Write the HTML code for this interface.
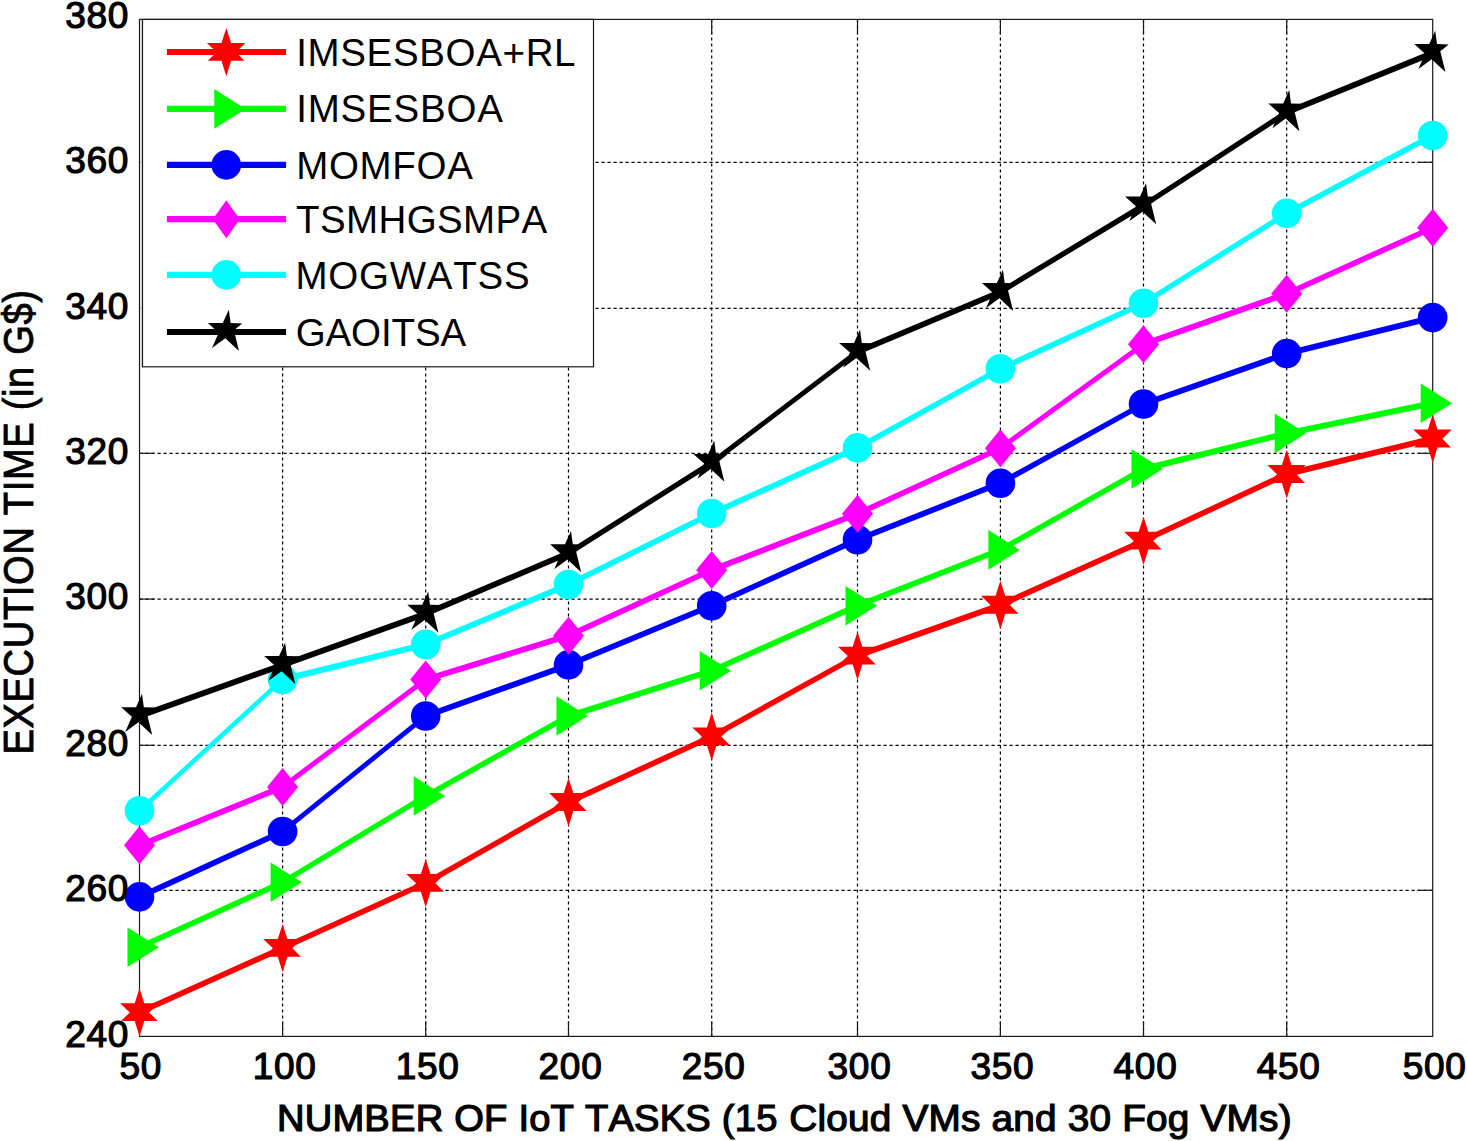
<!DOCTYPE html>
<html lang="en"><head><meta charset="utf-8"><title>Execution time chart</title>
<style>
html,body{margin:0;padding:0;background:#fff;}
body{width:1467px;height:1141px;overflow:hidden;}
svg{display:block;}
text{font-family:"Liberation Sans",Arial,Helvetica,sans-serif;fill:#000;font-kerning:none;}
.tick{font-size:37px;stroke:#000;stroke-width:1.2px;letter-spacing:0.7px;}
.lab{font-size:38.5px;stroke:#000;stroke-width:1.2px;}
.leg{font-size:38.5px;}
</style></head><body>
<svg width="1467" height="1141" viewBox="0 0 1467 1141">
<rect x="0" y="0" width="1467" height="1141" fill="#ffffff"/>
<g stroke="#000" stroke-width="1.2" stroke-dasharray="3.2 2.8" fill="none">
<line x1="282.6" y1="19.4" x2="282.6" y2="1036.4"/>
<line x1="425.7" y1="19.4" x2="425.7" y2="1036.4"/>
<line x1="568.5" y1="19.4" x2="568.5" y2="1036.4"/>
<line x1="711.7" y1="19.4" x2="711.7" y2="1036.4"/>
<line x1="857.5" y1="19.4" x2="857.5" y2="1036.4"/>
<line x1="1000.4" y1="19.4" x2="1000.4" y2="1036.4"/>
<line x1="1143.5" y1="19.4" x2="1143.5" y2="1036.4"/>
<line x1="1286.7" y1="19.4" x2="1286.7" y2="1036.4"/>
<line x1="139.5" y1="890.3" x2="1432.7" y2="890.3"/>
<line x1="139.5" y1="745.3" x2="1432.7" y2="745.3"/>
<line x1="139.5" y1="599.1" x2="1432.7" y2="599.1"/>
<line x1="139.5" y1="453.3" x2="1432.7" y2="453.3"/>
<line x1="139.5" y1="308.3" x2="1432.7" y2="308.3"/>
<line x1="139.5" y1="162.3" x2="1432.7" y2="162.3"/>
</g>
<g stroke="#1a1a1a" stroke-width="1.2" fill="none">
<rect x="139.5" y="19.4" width="1293.2" height="1017"/>
<line x1="282.6" y1="1036.4" x2="282.6" y2="1021.4"/>
<line x1="282.6" y1="19.4" x2="282.6" y2="34.4"/>
<line x1="425.7" y1="1036.4" x2="425.7" y2="1021.4"/>
<line x1="425.7" y1="19.4" x2="425.7" y2="34.4"/>
<line x1="568.5" y1="1036.4" x2="568.5" y2="1021.4"/>
<line x1="568.5" y1="19.4" x2="568.5" y2="34.4"/>
<line x1="711.7" y1="1036.4" x2="711.7" y2="1021.4"/>
<line x1="711.7" y1="19.4" x2="711.7" y2="34.4"/>
<line x1="857.5" y1="1036.4" x2="857.5" y2="1021.4"/>
<line x1="857.5" y1="19.4" x2="857.5" y2="34.4"/>
<line x1="1000.4" y1="1036.4" x2="1000.4" y2="1021.4"/>
<line x1="1000.4" y1="19.4" x2="1000.4" y2="34.4"/>
<line x1="1143.5" y1="1036.4" x2="1143.5" y2="1021.4"/>
<line x1="1143.5" y1="19.4" x2="1143.5" y2="34.4"/>
<line x1="1286.7" y1="1036.4" x2="1286.7" y2="1021.4"/>
<line x1="1286.7" y1="19.4" x2="1286.7" y2="34.4"/>
<line x1="139.5" y1="890.3" x2="154.5" y2="890.3"/>
<line x1="1432.7" y1="890.3" x2="1417.7" y2="890.3"/>
<line x1="139.5" y1="745.3" x2="154.5" y2="745.3"/>
<line x1="1432.7" y1="745.3" x2="1417.7" y2="745.3"/>
<line x1="139.5" y1="599.1" x2="154.5" y2="599.1"/>
<line x1="1432.7" y1="599.1" x2="1417.7" y2="599.1"/>
<line x1="139.5" y1="453.3" x2="154.5" y2="453.3"/>
<line x1="1432.7" y1="453.3" x2="1417.7" y2="453.3"/>
<line x1="139.5" y1="308.3" x2="154.5" y2="308.3"/>
<line x1="1432.7" y1="308.3" x2="1417.7" y2="308.3"/>
<line x1="139.5" y1="162.3" x2="154.5" y2="162.3"/>
<line x1="1432.7" y1="162.3" x2="1417.7" y2="162.3"/>
</g>
<g>
<line x1="139.5" y1="1012.29" x2="282.6" y2="948.01" stroke="#ff0000" stroke-width="5.66" stroke-linecap="butt"/>
<line x1="282.6" y1="948.01" x2="425.7" y2="883.05" stroke="#ff0000" stroke-width="5.65" stroke-linecap="butt"/>
<line x1="425.7" y1="883.05" x2="568.5" y2="802.21" stroke="#ff0000" stroke-width="5.4" stroke-linecap="butt"/>
<line x1="568.5" y1="802.21" x2="711.7" y2="736.53" stroke="#ff0000" stroke-width="5.64" stroke-linecap="butt"/>
<line x1="711.7" y1="736.53" x2="857.5" y2="655.75" stroke="#ff0000" stroke-width="5.42" stroke-linecap="butt"/>
<line x1="857.5" y1="655.75" x2="1000.4" y2="604.95" stroke="#ff0000" stroke-width="5.84" stroke-linecap="butt"/>
<line x1="1000.4" y1="604.95" x2="1143.5" y2="540.78" stroke="#ff0000" stroke-width="5.66" stroke-linecap="butt"/>
<line x1="1143.5" y1="540.78" x2="1286.7" y2="474.08" stroke="#ff0000" stroke-width="5.62" stroke-linecap="butt"/>
<line x1="1286.7" y1="474.08" x2="1432.7" y2="438.58" stroke="#ff0000" stroke-width="6.02" stroke-linecap="butt"/>
<polygon points="139.5,988.19 144.3,1003.19 158.5,1003.19 149.2,1012.49 157.7,1021.09 144.3,1021.09 139.5,1036.59 134.7,1021.09 120.9,1021.09 129.8,1012.49 120.1,1003.19 134.7,1003.19" fill="#ff0000"/>
<polygon points="282.6,923.91 287.4,938.91 301.6,938.91 292.3,948.21 300.8,956.81 287.4,956.81 282.6,972.31 277.8,956.81 264,956.81 272.9,948.21 263.2,938.91 277.8,938.91" fill="#ff0000"/>
<polygon points="425.7,858.95 430.5,873.95 444.7,873.95 435.4,883.25 443.9,891.85 430.5,891.85 425.7,907.35 420.9,891.85 407.1,891.85 416,883.25 406.3,873.95 420.9,873.95" fill="#ff0000"/>
<polygon points="568.5,778.11 573.3,793.11 587.5,793.11 578.2,802.41 586.7,811.01 573.3,811.01 568.5,826.51 563.7,811.01 549.9,811.01 558.8,802.41 549.1,793.11 563.7,793.11" fill="#ff0000"/>
<polygon points="711.7,712.43 716.5,727.43 730.7,727.43 721.4,736.73 729.9,745.33 716.5,745.33 711.7,760.83 706.9,745.33 693.1,745.33 702,736.73 692.3,727.43 706.9,727.43" fill="#ff0000"/>
<polygon points="857.5,631.65 862.3,646.65 876.5,646.65 867.2,655.95 875.7,664.55 862.3,664.55 857.5,680.05 852.7,664.55 838.9,664.55 847.8,655.95 838.1,646.65 852.7,646.65" fill="#ff0000"/>
<polygon points="1000.4,580.85 1005.2,595.85 1019.4,595.85 1010.1,605.15 1018.6,613.75 1005.2,613.75 1000.4,629.25 995.6,613.75 981.8,613.75 990.7,605.15 981,595.85 995.6,595.85" fill="#ff0000"/>
<polygon points="1143.5,516.68 1148.3,531.68 1162.5,531.68 1153.2,540.98 1161.7,549.58 1148.3,549.58 1143.5,565.08 1138.7,549.58 1124.9,549.58 1133.8,540.98 1124.1,531.68 1138.7,531.68" fill="#ff0000"/>
<polygon points="1286.7,449.98 1291.5,464.98 1305.7,464.98 1296.4,474.28 1304.9,482.88 1291.5,482.88 1286.7,498.38 1281.9,482.88 1268.1,482.88 1277,474.28 1267.3,464.98 1281.9,464.98" fill="#ff0000"/>
<polygon points="1432.7,414.48 1437.5,429.48 1451.7,429.48 1442.4,438.78 1450.9,447.38 1437.5,447.38 1432.7,462.88 1427.9,447.38 1414.1,447.38 1423,438.78 1413.3,429.48 1427.9,429.48" fill="#ff0000"/>
</g>
<g>
<line x1="139.5" y1="947.28" x2="282.6" y2="882.32" stroke="#00ff00" stroke-width="5.65" stroke-linecap="butt"/>
<line x1="282.6" y1="882.32" x2="425.7" y2="796.05" stroke="#00ff00" stroke-width="5.31" stroke-linecap="butt"/>
<line x1="425.7" y1="796.05" x2="568.5" y2="716.06" stroke="#00ff00" stroke-width="5.41" stroke-linecap="butt"/>
<line x1="568.5" y1="716.06" x2="711.7" y2="670.74" stroke="#00ff00" stroke-width="5.91" stroke-linecap="butt"/>
<line x1="711.7" y1="670.74" x2="857.5" y2="605.68" stroke="#00ff00" stroke-width="5.66" stroke-linecap="butt"/>
<line x1="857.5" y1="605.68" x2="1000.4" y2="549.89" stroke="#00ff00" stroke-width="5.78" stroke-linecap="butt"/>
<line x1="1000.4" y1="549.89" x2="1143.5" y2="468.97" stroke="#00ff00" stroke-width="5.4" stroke-linecap="butt"/>
<line x1="1143.5" y1="468.97" x2="1286.7" y2="433.36" stroke="#00ff00" stroke-width="6.02" stroke-linecap="butt"/>
<line x1="1286.7" y1="433.36" x2="1432.7" y2="403.28" stroke="#00ff00" stroke-width="6.07" stroke-linecap="butt"/>
<polygon points="127.5,927.48 158.9,947.28 127.5,967.08" fill="#00ff00"/>
<polygon points="270.6,862.52 302,882.32 270.6,902.12" fill="#00ff00"/>
<polygon points="413.7,776.25 445.1,796.05 413.7,815.85" fill="#00ff00"/>
<polygon points="556.5,696.26 587.9,716.06 556.5,735.86" fill="#00ff00"/>
<polygon points="699.7,650.94 731.1,670.74 699.7,690.54" fill="#00ff00"/>
<polygon points="845.5,585.88 876.9,605.68 845.5,625.48" fill="#00ff00"/>
<polygon points="988.4,530.09 1019.8,549.89 988.4,569.69" fill="#00ff00"/>
<polygon points="1131.5,449.17 1162.9,468.97 1131.5,488.77" fill="#00ff00"/>
<polygon points="1274.7,413.56 1306.1,433.36 1274.7,453.16" fill="#00ff00"/>
<polygon points="1420.7,383.48 1452.1,403.28 1420.7,423.08" fill="#00ff00"/>
</g>
<g>
<line x1="139.5" y1="896.87" x2="282.6" y2="831.57" stroke="#0000ff" stroke-width="5.64" stroke-linecap="butt"/>
<line x1="282.6" y1="831.57" x2="425.7" y2="716.06" stroke="#0000ff" stroke-width="4.82" stroke-linecap="butt"/>
<line x1="425.7" y1="716.06" x2="568.5" y2="664.89" stroke="#0000ff" stroke-width="5.84" stroke-linecap="butt"/>
<line x1="568.5" y1="664.89" x2="711.7" y2="605.68" stroke="#0000ff" stroke-width="5.73" stroke-linecap="butt"/>
<line x1="711.7" y1="605.68" x2="857.5" y2="539.69" stroke="#0000ff" stroke-width="5.65" stroke-linecap="butt"/>
<line x1="857.5" y1="539.69" x2="1000.4" y2="483.19" stroke="#0000ff" stroke-width="5.77" stroke-linecap="butt"/>
<line x1="1000.4" y1="483.19" x2="1143.5" y2="404" stroke="#0000ff" stroke-width="5.42" stroke-linecap="butt"/>
<line x1="1143.5" y1="404" x2="1286.7" y2="353.61" stroke="#0000ff" stroke-width="5.85" stroke-linecap="butt"/>
<line x1="1286.7" y1="353.61" x2="1432.7" y2="317.58" stroke="#0000ff" stroke-width="6.02" stroke-linecap="butt"/>
<circle cx="139.5" cy="896.87" r="14.8" fill="#0000ff"/>
<circle cx="282.6" cy="831.57" r="14.8" fill="#0000ff"/>
<circle cx="425.7" cy="716.06" r="14.8" fill="#0000ff"/>
<circle cx="568.5" cy="664.89" r="14.8" fill="#0000ff"/>
<circle cx="711.7" cy="605.68" r="14.8" fill="#0000ff"/>
<circle cx="857.5" cy="539.69" r="14.8" fill="#0000ff"/>
<circle cx="1000.4" cy="483.19" r="14.8" fill="#0000ff"/>
<circle cx="1143.5" cy="404" r="14.8" fill="#0000ff"/>
<circle cx="1286.7" cy="353.61" r="14.8" fill="#0000ff"/>
<circle cx="1432.7" cy="317.58" r="14.8" fill="#0000ff"/>
</g>
<g>
<line x1="139.5" y1="845.35" x2="282.6" y2="786.99" stroke="#ff00ff" stroke-width="5.74" stroke-linecap="butt"/>
<line x1="282.6" y1="786.99" x2="425.7" y2="679.51" stroke="#ff00ff" stroke-width="4.96" stroke-linecap="butt"/>
<line x1="425.7" y1="679.51" x2="568.5" y2="635.65" stroke="#ff00ff" stroke-width="5.93" stroke-linecap="butt"/>
<line x1="568.5" y1="635.65" x2="711.7" y2="569.94" stroke="#ff00ff" stroke-width="5.64" stroke-linecap="butt"/>
<line x1="711.7" y1="569.94" x2="857.5" y2="513.81" stroke="#ff00ff" stroke-width="5.79" stroke-linecap="butt"/>
<line x1="857.5" y1="513.81" x2="1000.4" y2="448.23" stroke="#ff00ff" stroke-width="5.63" stroke-linecap="butt"/>
<line x1="1000.4" y1="448.23" x2="1143.5" y2="344.19" stroke="#ff00ff" stroke-width="5.01" stroke-linecap="butt"/>
<line x1="1143.5" y1="344.19" x2="1286.7" y2="293.7" stroke="#ff00ff" stroke-width="5.85" stroke-linecap="butt"/>
<line x1="1286.7" y1="293.7" x2="1432.7" y2="227.78" stroke="#ff00ff" stroke-width="5.65" stroke-linecap="butt"/>
<polygon points="139.5,826.35 155,845.35 139.5,864.35 124,845.35" fill="#ff00ff"/>
<polygon points="282.6,767.99 298.1,786.99 282.6,805.99 267.1,786.99" fill="#ff00ff"/>
<polygon points="425.7,660.51 441.2,679.51 425.7,698.51 410.2,679.51" fill="#ff00ff"/>
<polygon points="568.5,616.65 584,635.65 568.5,654.65 553,635.65" fill="#ff00ff"/>
<polygon points="711.7,550.94 727.2,569.94 711.7,588.94 696.2,569.94" fill="#ff00ff"/>
<polygon points="857.5,494.81 873,513.81 857.5,532.81 842,513.81" fill="#ff00ff"/>
<polygon points="1000.4,429.23 1015.9,448.23 1000.4,467.23 984.9,448.23" fill="#ff00ff"/>
<polygon points="1143.5,325.19 1159,344.19 1143.5,363.19 1128,344.19" fill="#ff00ff"/>
<polygon points="1286.7,274.7 1302.2,293.7 1286.7,312.7 1271.2,293.7" fill="#ff00ff"/>
<polygon points="1432.7,208.78 1448.2,227.78 1432.7,246.78 1417.2,227.78" fill="#ff00ff"/>
</g>
<g>
<line x1="139.5" y1="810.77" x2="282.6" y2="679.51" stroke="#00ffff" stroke-width="4.57" stroke-linecap="butt"/>
<line x1="282.6" y1="679.51" x2="425.7" y2="644.42" stroke="#00ffff" stroke-width="6.02" stroke-linecap="butt"/>
<line x1="425.7" y1="644.42" x2="568.5" y2="584.52" stroke="#00ffff" stroke-width="5.72" stroke-linecap="butt"/>
<line x1="568.5" y1="584.52" x2="711.7" y2="513.52" stroke="#00ffff" stroke-width="5.55" stroke-linecap="butt"/>
<line x1="711.7" y1="513.52" x2="857.5" y2="447.86" stroke="#00ffff" stroke-width="5.65" stroke-linecap="butt"/>
<line x1="857.5" y1="447.86" x2="1000.4" y2="368.84" stroke="#00ffff" stroke-width="5.43" stroke-linecap="butt"/>
<line x1="1000.4" y1="368.84" x2="1143.5" y2="303.19" stroke="#00ffff" stroke-width="5.64" stroke-linecap="butt"/>
<line x1="1143.5" y1="303.19" x2="1286.7" y2="213.4" stroke="#00ffff" stroke-width="5.25" stroke-linecap="butt"/>
<line x1="1286.7" y1="213.4" x2="1432.7" y2="135.51" stroke="#00ffff" stroke-width="5.47" stroke-linecap="butt"/>
<circle cx="139.5" cy="810.77" r="14.8" fill="#00ffff"/>
<circle cx="282.6" cy="679.51" r="14.8" fill="#00ffff"/>
<circle cx="425.7" cy="644.42" r="14.8" fill="#00ffff"/>
<circle cx="568.5" cy="584.52" r="14.8" fill="#00ffff"/>
<circle cx="711.7" cy="513.52" r="14.8" fill="#00ffff"/>
<circle cx="857.5" cy="447.86" r="14.8" fill="#00ffff"/>
<circle cx="1000.4" cy="368.84" r="14.8" fill="#00ffff"/>
<circle cx="1143.5" cy="303.19" r="14.8" fill="#00ffff"/>
<circle cx="1286.7" cy="213.4" r="14.8" fill="#00ffff"/>
<circle cx="1432.7" cy="135.51" r="14.8" fill="#00ffff"/>
</g>
<g>
<line x1="139.5" y1="716.06" x2="282.6" y2="664.89" stroke="#000000" stroke-width="5.84" stroke-linecap="butt"/>
<line x1="282.6" y1="664.89" x2="425.7" y2="613.72" stroke="#000000" stroke-width="5.84" stroke-linecap="butt"/>
<line x1="425.7" y1="613.72" x2="568.5" y2="553.17" stroke="#000000" stroke-width="5.71" stroke-linecap="butt"/>
<line x1="568.5" y1="553.17" x2="711.7" y2="462.78" stroke="#000000" stroke-width="5.24" stroke-linecap="butt"/>
<line x1="711.7" y1="462.78" x2="857.5" y2="351.8" stroke="#000000" stroke-width="4.93" stroke-linecap="butt"/>
<line x1="857.5" y1="351.8" x2="1000.4" y2="291.88" stroke="#000000" stroke-width="5.72" stroke-linecap="butt"/>
<line x1="1000.4" y1="291.88" x2="1143.5" y2="205.37" stroke="#000000" stroke-width="5.31" stroke-linecap="butt"/>
<line x1="1143.5" y1="205.37" x2="1286.7" y2="112.29" stroke="#000000" stroke-width="5.2" stroke-linecap="butt"/>
<line x1="1286.7" y1="112.29" x2="1432.7" y2="52.98" stroke="#000000" stroke-width="5.74" stroke-linecap="butt"/>
<polygon points="142,693.86 143.8,707.16 155.5,707.46 147.1,714.36 152.2,735.06 138.5,722.36 125.2,732.06 131.9,716.86 121.1,707.16 136,707.16" fill="#000000"/>
<polygon points="285.1,642.69 286.9,655.99 298.6,656.29 290.2,663.19 295.3,683.89 281.6,671.19 268.3,680.89 275,665.69 264.2,655.99 279.1,655.99" fill="#000000"/>
<polygon points="428.2,591.52 430,604.82 441.7,605.12 433.3,612.02 438.4,632.72 424.7,620.02 411.4,629.72 418.1,614.52 407.3,604.82 422.2,604.82" fill="#000000"/>
<polygon points="571,530.97 572.8,544.27 584.5,544.57 576.1,551.47 581.2,572.17 567.5,559.47 554.2,569.17 560.9,553.97 550.1,544.27 565,544.27" fill="#000000"/>
<polygon points="714.2,440.58 716,453.88 727.7,454.18 719.3,461.08 724.4,481.78 710.7,469.08 697.4,478.78 704.1,463.58 693.3,453.88 708.2,453.88" fill="#000000"/>
<polygon points="860,329.6 861.8,342.9 873.5,343.2 865.1,350.1 870.2,370.8 856.5,358.1 843.2,367.8 849.9,352.6 839.1,342.9 854,342.9" fill="#000000"/>
<polygon points="1002.9,269.68 1004.7,282.98 1016.4,283.27 1008,290.18 1013.1,310.88 999.4,298.18 986.1,307.88 992.8,292.68 982,282.98 996.9,282.98" fill="#000000"/>
<polygon points="1146,183.17 1147.8,196.47 1159.5,196.77 1151.1,203.67 1156.2,224.37 1142.5,211.67 1129.2,221.37 1135.9,206.17 1125.1,196.47 1140,196.47" fill="#000000"/>
<polygon points="1289.2,90.09 1291,103.39 1302.7,103.69 1294.3,110.59 1299.4,131.29 1285.7,118.59 1272.4,128.29 1279.1,113.09 1268.3,103.39 1283.2,103.39" fill="#000000"/>
<polygon points="1435.2,30.78 1437,44.08 1448.7,44.38 1440.3,51.28 1445.4,71.98 1431.7,59.28 1418.4,68.98 1425.1,53.78 1414.3,44.08 1429.2,44.08" fill="#000000"/>
</g>
<rect x="140.2" y="20" width="1.7" height="346.5" fill="#e2e2e2"/>
<rect x="142.5" y="19.4" width="451" height="347.4" fill="#fff" stroke="#1a1a1a" stroke-width="1.2"/>
<line x1="166.9" y1="52" x2="286.1" y2="52" stroke="#ff0000" stroke-width="6.2"/>
<polygon points="226.3,27.9 231.1,42.9 245.3,42.9 236,52.2 244.5,60.8 231.1,60.8 226.3,76.3 221.5,60.8 207.7,60.8 216.6,52.2 206.9,42.9 221.5,42.9" fill="#ff0000"/>
<text class="leg" id="leg0" x="296.2" y="66" style="letter-spacing:0.65px">IMSESBOA+RL</text>
<line x1="166.9" y1="108.9" x2="286.1" y2="108.9" stroke="#00ff00" stroke-width="6.2"/>
<polygon points="214.3,89.1 245.7,108.9 214.3,128.7" fill="#00ff00"/>
<text class="leg" id="leg1" x="296.2" y="122.3" style="letter-spacing:0.79px">IMSESBOA</text>
<line x1="166.9" y1="164.9" x2="286.1" y2="164.9" stroke="#0000ff" stroke-width="6.2"/>
<circle cx="226.3" cy="164.9" r="14.8" fill="#0000ff"/>
<text class="leg" id="leg2" x="296.2" y="178.6" style="letter-spacing:0.68px">MOMFOA</text>
<line x1="166.9" y1="219.2" x2="286.1" y2="219.2" stroke="#ff00ff" stroke-width="6.2"/>
<polygon points="226.3,200.2 239.8,219.2 226.3,238.2 212.8,219.2" fill="#ff00ff"/>
<text class="leg" id="leg3" x="296" y="233" style="letter-spacing:0.39px">TSMHGSMPA</text>
<line x1="166.9" y1="274.9" x2="286.1" y2="274.9" stroke="#00ffff" stroke-width="6.2"/>
<circle cx="226.3" cy="274.9" r="14.8" fill="#00ffff"/>
<text class="leg" id="leg4" x="295.4" y="289" style="letter-spacing:0.77px">MOGWATSS</text>
<line x1="166.9" y1="332" x2="286.1" y2="332" stroke="#000000" stroke-width="6.2"/>
<polygon points="228.8,309.8 230.6,323.1 242.3,323.4 233.9,330.3 239,351 225.3,338.3 212,348 218.7,332.8 207.9,323.1 222.8,323.1" fill="#000000"/>
<text class="leg" id="leg5" x="295.7" y="346.2" style="letter-spacing:-0.1px">GAOITSA</text>
<text class="tick xt" x="140.7" y="1079.3" text-anchor="middle">50</text>
<text class="tick xt" x="284.6" y="1079.3" text-anchor="middle">100</text>
<text class="tick xt" x="427.7" y="1079.3" text-anchor="middle">150</text>
<text class="tick xt" x="570.5" y="1079.3" text-anchor="middle">200</text>
<text class="tick xt" x="713.7" y="1079.3" text-anchor="middle">250</text>
<text class="tick xt" x="859.5" y="1079.3" text-anchor="middle">300</text>
<text class="tick xt" x="1002.4" y="1079.3" text-anchor="middle">350</text>
<text class="tick xt" x="1145.5" y="1079.3" text-anchor="middle">400</text>
<text class="tick xt" x="1288.7" y="1079.3" text-anchor="middle">450</text>
<text class="tick xt" x="1434.7" y="1079.3" text-anchor="middle">500</text>
<text class="tick yt" x="129.1" y="1046.7" text-anchor="end">240</text>
<text class="tick yt" x="129.1" y="900.6" text-anchor="end">260</text>
<text class="tick yt" x="129.1" y="755.6" text-anchor="end">280</text>
<text class="tick yt" x="129.1" y="609.4" text-anchor="end">300</text>
<text class="tick yt" x="129.1" y="463.6" text-anchor="end">320</text>
<text class="tick yt" x="129.1" y="318.6" text-anchor="end">340</text>
<text class="tick yt" x="129.1" y="172.6" text-anchor="end">360</text>
<text class="tick yt" x="129.1" y="28" text-anchor="end">380</text>
<text class="lab" id="xlab" y="1130.6" style="font-size:36.3px;letter-spacing:0.2px"><tspan x="276.9" textLength="500.68" lengthAdjust="spacingAndGlyphs">NUMBER OF IoT TASKS (15</tspan> <tspan x="789.23" textLength="502.57" lengthAdjust="spacingAndGlyphs">Cloud VMs and 30 Fog VMs)</tspan></text>
<text class="lab" id="ylab" x="0" y="0" text-anchor="middle" style="font-size:42px;stroke-width:0.85px;letter-spacing:0.7px" transform="translate(32.5 522) rotate(-90) scale(0.908 1)">EXECUTION TIME (in G$)</text>
</svg>
</body></html>
